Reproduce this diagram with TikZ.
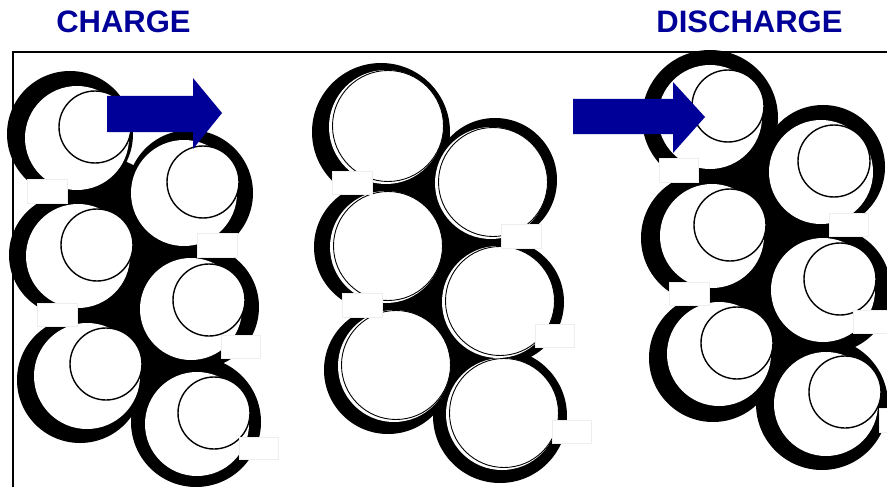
\documentclass[tikz,border=0pt]{standalone}
\usepackage{fontspec}
\setmainfont{Liberation Sans}
\definecolor{navy}{RGB}{0,0,153}
\definecolor{rectedge}{RGB}{238,238,238}
\begin{document}
\begin{tikzpicture}[x=1pt,y=-1pt,
  title/.style={text=navy,font=\fontsize{31}{31}\selectfont\bfseries,inner sep=0pt,anchor=base},
  gapbox/.style={fill=white,draw=rectedge,line width=0.6pt},
  core/.style={fill=white,draw=black,line width=1.4pt},
  shell/.style={fill=white,draw=black,line width=0.9pt},
  bigarrow/.style={fill=navy}]
\useasboundingbox (0,0) rectangle (887,487);
\begin{scope}
\clip (0,0) rectangle (887,487);
% frame
\draw[line width=1.4pt] (13,490) -- (13,52) -- (890,52);
% interstitial black
\fill (70,134) -- (190,193) -- (197,307) -- (196,422) -- (80,380) -- (70,255) -- cycle;
\fill (381,132) -- (495,180) -- (502,302) -- (500,416) -- (388,370) -- (378,247) -- cycle;
\fill (710,118) -- (823,167) -- (828,290) -- (822,404) -- (713,358) -- (706,238) -- cycle;
% outer black shells
\foreach \cx/\cy/\rr in {70/134/63, 190/193/63, 70/255/61, 197/307/62, 80/380/63, 196/422/65,
  381/132/69, 495/180/62, 378/247/64, 502/302/62, 388/370/64, 500/416/67,
  710/118/68, 823/167/62, 706/238/65, 828/290/63, 713/358/64, 822/404/66}
  \fill[black] (\cx,\cy) circle[radius=\rr pt];
% white interiors
\foreach \cx/\cy/\rr in {77/138/52, 184/193/53, 78/256/52, 191/309/51, 87/376/53, 197/424/52,
  386/127/57, 491/183/56, 386/247/56, 498/302/56, 394/366/56, 502/414/56,
  710/117/52, 821/172/52, 712/236/52, 823/290/52, 719/354/52, 826/404/52}
  \fill[white] (\cx,\cy) circle[radius=\rr pt];
% expanded cores (middle column)
\foreach \cx/\cy/\rr in {388/126/55.5, 493/182/54.5, 388/246/54.5, 500/301/54.5, 396/365/54.5, 504/413/54.5}
  \draw[shell] (\cx,\cy) circle[radius=\rr pt];
% cores
\foreach \cx/\cy in {95/127, 203/182, 97/245, 209/300, 106/364, 214/413,
  728/106, 834/161, 730/225, 840/279, 737/343, 845/392}
  \draw[core] (\cx,\cy) circle[radius=36pt];
% white gap boxes
\foreach \ax/\ay/\bx/\by in {27/179/67/203, 197/233/237/257, 37/303/77/326, 221/335/260/358, 239/437/278/459,
  332/171/372/194, 501/224/541/248, 342/293/382/317, 535/324/574/347, 552/420/591/443,
  659/158/698/182, 829/213/868/236, 669/282/709/305, 853/310/892/333, 879/408/918/432}
  \draw[gapbox] (\ax,\ay) rectangle (\bx,\by);
% arrows
\fill[bigarrow] (107,96) -- (193,96) -- (193,78) -- (222,113) -- (193,149) -- (193,132) -- (107,132) -- cycle;
\fill[bigarrow] (573,99) -- (673,99) -- (673,82) -- (705,117) -- (673,153) -- (673,134) -- (573,134) -- cycle;
\end{scope}
% titles
\node[title] (charge) at (123.5,33) {CHARGE};
\node[title] (discharge) at (749.5,33) {DISCHARGE};
\end{tikzpicture}
\end{document}
